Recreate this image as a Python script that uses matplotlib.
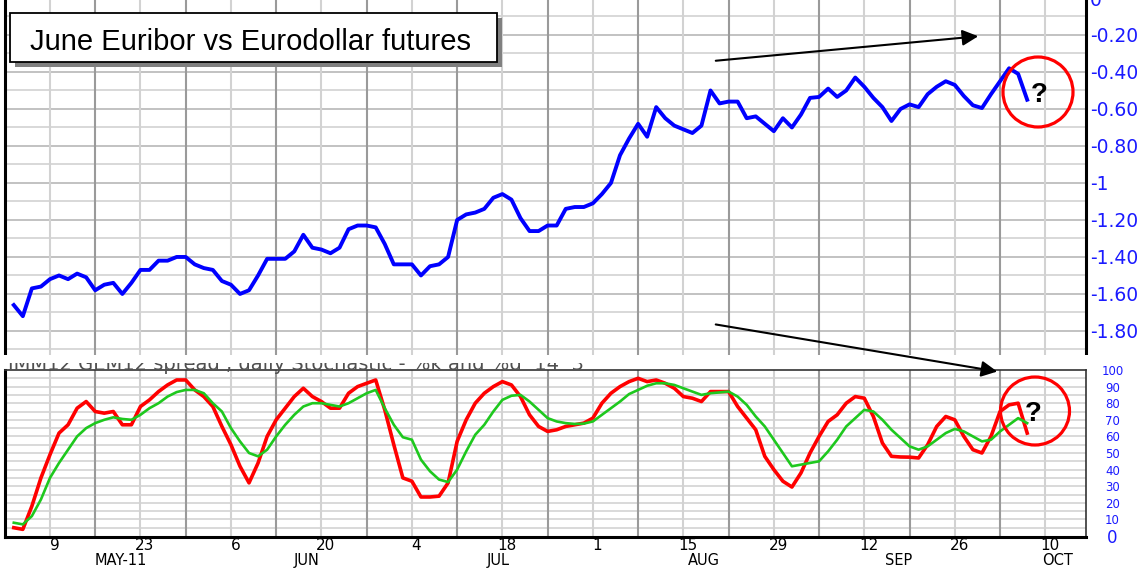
import matplotlib
matplotlib.use("Agg")
import matplotlib.pyplot as plt
import numpy as np
from matplotlib.patches import Rectangle, Ellipse

# trading days counted from Mon 9 May 2011 (0) to early Oct 2011
days = np.arange(-4, 109)

# June Euribor vs Eurodollar futures spread
spread = [
    -1.66, -1.72, -1.57, -1.56, -1.52, -1.50, -1.52, -1.49, -1.51, -1.58,
    -1.55, -1.54, -1.60, -1.54, -1.47, -1.47, -1.42, -1.42, -1.40, -1.40,
    -1.44, -1.46, -1.47, -1.53, -1.55, -1.60, -1.58, -1.50, -1.41, -1.41,
    -1.41, -1.37, -1.28, -1.35, -1.36, -1.38, -1.35, -1.25, -1.23, -1.23,
    -1.24, -1.33, -1.44, -1.44, -1.44, -1.50, -1.45, -1.44, -1.40, -1.20,
    -1.17, -1.16, -1.14, -1.08, -1.06, -1.09, -1.19, -1.26, -1.26, -1.23,
    -1.23, -1.14, -1.13, -1.13, -1.11, -1.06, -1.00, -0.85, -0.76, -0.68,
    -0.75, -0.59, -0.65, -0.69, -0.71, -0.73, -0.69, -0.50, -0.57, -0.56,
    -0.56, -0.65, -0.64, -0.68, -0.72, -0.65, -0.70, -0.63, -0.54, -0.535,
    -0.49, -0.535, -0.50, -0.43, -0.48, -0.54, -0.59, -0.665, -0.60, -0.575,
    -0.59, -0.52, -0.48, -0.45, -0.47, -0.53, -0.58, -0.595, -0.52, -0.45,
    -0.38, -0.41, -0.55,
]

# daily stochastic 14,3 : %k (red) and %d (green)
stoch_k = [
    5, 4, 18, 35, 49, 62, 67, 77, 81, 75,
    74, 75, 67, 67, 78, 82, 87, 91, 94, 94,
    88, 84, 78, 66, 55, 42, 32, 44, 60, 70,
    77, 84, 89, 84, 81, 77, 77, 86, 90, 92,
    94, 76, 55, 35, 33, 23.5, 23.5, 24, 32, 57,
    70, 80, 86, 90, 93, 91, 84, 73, 66, 63,
    64, 66, 67, 68, 71, 80, 86, 90, 93, 95,
    93, 94, 92, 89, 84, 83, 81, 87, 87, 87,
    78, 71, 64, 48, 40, 33, 29.5, 38, 50, 60,
    69, 73, 80, 84, 83, 72, 56, 48, 47.6, 47.5,
    47, 55, 66, 72, 70, 60, 52, 50, 60, 75,
    79, 80, 62,
]
stoch_d = [
    8, 7, 12, 22, 35, 44, 52, 60, 65, 68,
    70, 71.5, 70.5, 70, 73, 77, 80, 84, 86.7, 88,
    88, 86, 80, 75, 65, 57, 50, 48, 52, 60,
    67, 73, 78, 80, 80, 79, 78, 80, 83, 86,
    88, 77, 67, 59.5, 58, 46, 39, 34, 32.5, 40,
    51, 61, 67, 75, 82, 84.5, 85, 81, 76, 71,
    69, 68, 67.5, 67.7, 69, 73, 77, 81, 85.5, 88,
    90.5, 92, 92, 91, 89, 87, 85, 86, 86.5, 87,
    84, 79, 72, 66, 58, 50, 42, 43, 44, 45,
    51, 58, 66, 71, 76, 75, 70, 64, 59, 54,
    52, 54, 58, 62, 64.5, 63, 60, 57, 58, 63,
    67, 71, 68,
]

top_ticks = [0, -0.2, -0.4, -0.6, -0.8, -1.0, -1.2, -1.4, -1.6, -1.8]
top_labels = ['0', '-0.20', '-0.40', '-0.60', '-0.80', '-1', '-1.20', '-1.40', '-1.60', '-1.80']
bot_ticks = [100, 90, 80, 70, 60, 50, 40, 30, 20, 10, 0]
bot_labels = ['100', '90', '80', '70', '60', '50', '40', '30', '20', '10', '0']

day_pos = [0, 10, 20, 30, 40, 50, 60, 70, 80, 90, 100, 110]
day_labels = ['9', '23', '6', '20', '4', '18', '1', '15', '29', '12', '26', '10']
month_pos = [7.8, 28.4, 49.5, 72.3, 93.8, 111.4]
month_labels = ['MAY-11', 'JUN', 'JUL', 'AUG', 'SEP', 'OCT']

W, H = 1147, 569
BLUE_TXT = '#1a1aff'


def px_rect(x0, y0, x1, y1):
    return [x0 / W, 1 - y1 / H, (x1 - x0) / W, (y1 - y0) / H]


def week_grid(ax):
    for w in range(-5, 115, 5):
        dark = (w // 5) % 2 != 0
        ax.axvline(w, color='#9a9a9a' if dark else '#d2d2d2', lw=1.5, zorder=1)


fig = plt.figure(figsize=(W / 100, H / 100), dpi=100)

# ---- top panel: spread ----
ax1 = fig.add_axes(px_rect(5, -2, 1086, 355))
ax1.set_xlim(-4.97, 114.5)
ax1.set_ylim(-1.93, 0)
for lev in np.arange(-1.9, 0.001, 0.1):
    even = round(lev * 10) % 2 == 0
    ax1.axhline(lev, color='#bdbdbd' if even else '#d6d6d6', lw=1.3, zorder=1)
week_grid(ax1)
ax1.plot(days, spread, color='#0000ff', lw=2.8, zorder=3)

ax1.yaxis.tick_right()
ax1.set_yticks(top_ticks)
ax1.set_yticklabels(top_labels, color=BLUE_TXT, fontsize=13.5)
ax1.tick_params(axis='y', length=0, pad=3)
ax1.set_xticks([])
for s in ['top', 'bottom']:
    ax1.spines[s].set_visible(False)
for s in ['left', 'right']:
    ax1.spines[s].set_linewidth(2.2)
    ax1.spines[s].set_color('black')

# ---- bottom panel: stochastic ----
ax2 = fig.add_axes(px_rect(5, 370, 1086, 537))
ax2.set_xlim(-4.97, 114.5)
ax2.set_ylim(-0.6, 100)
for lev in range(5, 100, 5):
    ax2.axhline(lev, color='#d0d0d0', lw=1.1, zorder=1)
week_grid(ax2)
ax2.plot(days, stoch_k, color='#ff0000', lw=2.6, zorder=3)
ax2.plot(days, stoch_d, color='#1ec81e', lw=1.9, zorder=4)

ax2.yaxis.tick_right()
ax2.set_yticks(bot_ticks)
ax2.set_yticklabels(bot_labels, color=BLUE_TXT, fontsize=8.5)
ax2.tick_params(axis='y', length=0, pad=19)
for lbl in ax2.get_yticklabels():
    lbl.set_ha('center')
    if lbl.get_text() == '0':
        lbl.set_fontsize(12)
ax2.set_xticks([])
for s in ['left', 'bottom']:
    ax2.spines[s].set_linewidth(2.2)
    ax2.spines[s].set_color('black')
for s in ['top', 'right']:
    ax2.spines[s].set_linewidth(1.2)
    ax2.spines[s].set_color('#333333')

xt = ax2.get_xaxis_transform()
for p, lab in zip(day_pos, day_labels):
    ax2.text(p + 0.5, -0.05, lab, transform=xt, ha='center', va='center',
             fontsize=11, clip_on=False)
for p, lab in zip(month_pos, month_labels):
    ax2.text(p, -0.143, lab, transform=xt, ha='center', va='center',
             fontsize=10.5, clip_on=False)

# ---- overlay for annotations (pixel coordinates) ----
ov = fig.add_axes([0, 0, 1, 1], zorder=10)
ov.set_xlim(0, W)
ov.set_ylim(H, 0)
ov.axis('off')

ov.add_patch(Rectangle((15, 18), 487, 49, facecolor='#808080', edgecolor='none'))
ov.add_patch(Rectangle((10, 13), 487, 49, facecolor='white', edgecolor='black', lw=1.3))
ov.text(30, 50, 'June Euribor vs Eurodollar futures', fontsize=21,
        family='Liberation Sans', va='baseline', ha='left')

# stochastic header, top half hidden as in the source chart
ov.text(8, 369.5, 'IMM12 GEM12 spread , daily Stochastic - %k and %d  14  3',
        fontsize=14, color='#505050', va='baseline', ha='left', zorder=2)
ov.add_patch(Rectangle((0, 355), W, 7.5, facecolor='white', edgecolor='none', zorder=3))

arrow = dict(arrowstyle='-|>', color='black', lw=1.5, mutation_scale=24)
ov.annotate('', xy=(981, 36), xytext=(713, 61), arrowprops=arrow)
ov.annotate('', xy=(1000, 372), xytext=(713, 324), arrowprops=arrow, zorder=4)

ov.add_patch(Ellipse((1038, 92), 70, 70, fill=False, edgecolor='#ff0000', lw=2.3))
ov.add_patch(Ellipse((1035, 411), 69, 68, fill=False, edgecolor='#ff0000', lw=2.3))
for qx, qy in [(1039, 95), (1033, 414)]:
    ov.text(qx, qy, '?', fontsize=20, fontweight='bold', family='Liberation Sans',
            ha='center', va='center')

fig.savefig('out.png', dpi=100)
